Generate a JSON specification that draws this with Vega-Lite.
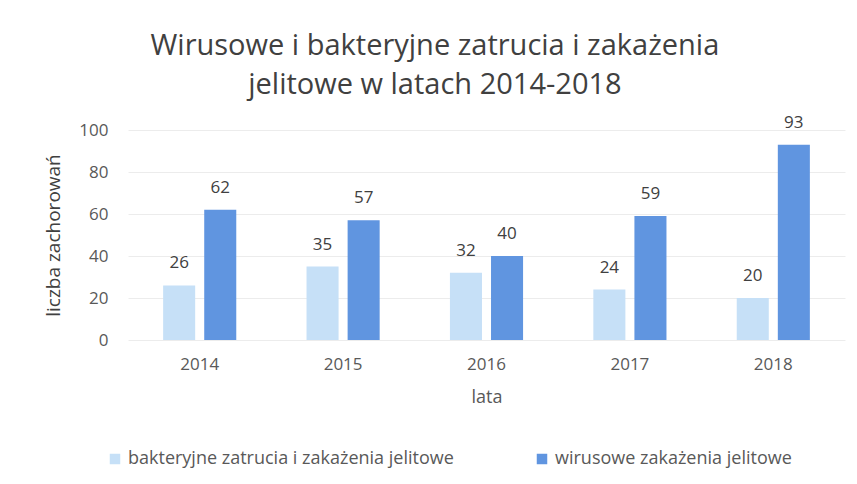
{
  "$schema": "https://vega.github.io/schema/vega-lite/v6.json",
  "width": 717,
  "height": 210,
  "autosize": {"type": "none"},
  "padding": {"left": 128, "top": 130, "right": 12, "bottom": 144},
  "config": {"font": "Open Sans", "view": {"stroke": null}},
  "title": {
    "text": ["Wirusowe i bakteryjne zatrucia i zakażenia", "jelitowe w latach 2014-2018"],
    "fontSize": 29,
    "fontWeight": "normal",
    "color": "#404040",
    "lineHeight": 39,
    "anchor": "middle",
    "frame": "bounds",
    "dy": -10,
    "dx": -10
  },
  "data": {
    "values": [
      {"rok": "2014", "typ": "bakteryjne zatrucia i zakażenia jelitowe", "wartosc": 26},
      {"rok": "2014", "typ": "wirusowe zakażenia jelitowe", "wartosc": 62},
      {"rok": "2015", "typ": "bakteryjne zatrucia i zakażenia jelitowe", "wartosc": 35},
      {"rok": "2015", "typ": "wirusowe zakażenia jelitowe", "wartosc": 57},
      {"rok": "2016", "typ": "bakteryjne zatrucia i zakażenia jelitowe", "wartosc": 32},
      {"rok": "2016", "typ": "wirusowe zakażenia jelitowe", "wartosc": 40},
      {"rok": "2017", "typ": "bakteryjne zatrucia i zakażenia jelitowe", "wartosc": 24},
      {"rok": "2017", "typ": "wirusowe zakażenia jelitowe", "wartosc": 59},
      {"rok": "2018", "typ": "bakteryjne zatrucia i zakażenia jelitowe", "wartosc": 20},
      {"rok": "2018", "typ": "wirusowe zakażenia jelitowe", "wartosc": 93}
    ]
  },
  "encoding": {
    "x": {
      "field": "rok",
      "type": "nominal",
      "scale": {"paddingInner": 0.49, "paddingOuter": 0.245},
      "axis": {
        "labelAngle": 0,
        "title": "lata",
        "domain": false,
        "ticks": false,
        "labelPadding": 16,
        "labelFontSize": 17,
        "labelColor": "#595959",
        "titleFontSize": 18,
        "titleFontWeight": "normal",
        "titleColor": "#595959",
        "titlePadding": 16
      }
    },
    "xOffset": {"field": "typ", "type": "nominal", "scale": {"paddingInner": 0.22}},
    "y": {
      "field": "wartosc",
      "type": "quantitative",
      "scale": {"domain": [0, 100]},
      "axis": {
        "values": [0, 20, 40, 60, 80, 100],
        "title": "liczba zachorowań",
        "domain": false,
        "ticks": false,
        "gridColor": "#ececec",
        "labelPadding": 20,
        "labelFontSize": 17,
        "labelColor": "#595959",
        "titleFontSize": 19,
        "titleFontWeight": "normal",
        "titleColor": "#404040",
        "titlePadding": 15
      }
    }
  },
  "layer": [
    {
      "mark": {"type": "bar"},
      "encoding": {
        "color": {
          "field": "typ",
          "type": "nominal",
          "scale": {
            "domain": ["bakteryjne zatrucia i zakażenia jelitowe", "wirusowe zakażenia jelitowe"],
            "range": ["#c6e0f7", "#6095e0"]
          },
          "legend": {
            "title": null,
            "orient": "none",
            "legendX": -22,
            "legendY": 320,
            "direction": "horizontal",
            "symbolType": "square",
            "symbolSize": 110,
            "symbolStrokeWidth": 0,
            "labelFontSize": 18,
            "labelColor": "#595959",
            "labelLimit": 0,
            "labelOffset": 4,
            "columnPadding": 79
          }
        }
      }
    },
    {
      "mark": {"type": "text", "baseline": "bottom", "dy": -13, "fontSize": 17, "color": "#404040"},
      "encoding": {"text": {"field": "wartosc", "type": "quantitative"}}
    }
  ]
}
